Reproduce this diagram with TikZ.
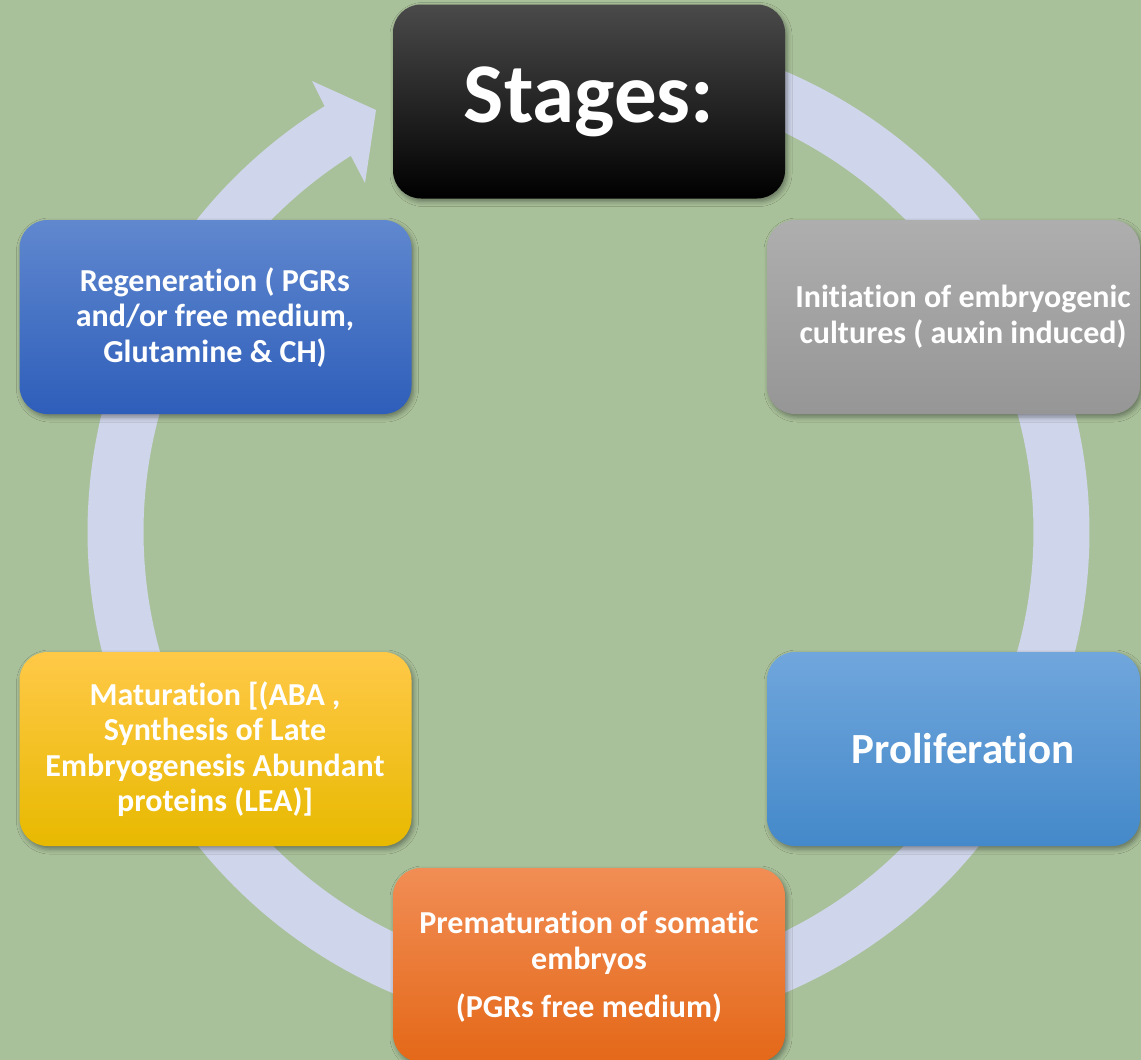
\documentclass[tikz,border=0pt]{standalone}
\usepackage{fontspec}
\setmainfont{Carlito}[Ligatures={NoCommon,NoContextual,NoRare}, Contextuals=NoAlternate]
\usetikzlibrary{shadows.blur}
\definecolor{bg}{RGB}{169,193,154}
\definecolor{ringc}{RGB}{207,213,234}
\definecolor{stgTop}{RGB}{74,74,74}
\definecolor{grTop}{RGB}{174,174,174}
\definecolor{grBot}{RGB}{150,150,150}
\definecolor{rgTop}{RGB}{96,136,207}
\definecolor{rgBot}{RGB}{46,94,186}
\definecolor{prTop}{RGB}{112,166,220}
\definecolor{prMid}{RGB}{93,158,220}
\definecolor{prBot}{RGB}{68,137,202}
\definecolor{maTop}{RGB}{255,201,72}
\definecolor{maMid}{RGB}{255,193,0}
\definecolor{maBot}{RGB}{232,185,0}
\definecolor{pmTop}{RGB}{241,141,85}
\definecolor{pmMid}{RGB}{245,124,42}
\definecolor{pmBot}{RGB}{228,104,24}
\tikzset{
  stagebox/.style={rectangle, rounded corners=28pt, inner sep=0pt,
    minimum height=194pt,
    blur shadow={shadow xshift=2pt, shadow yshift=-3pt, shadow blur radius=5pt, shadow opacity=40}},
  stagetext/.style={text=white, font=\bfseries\fontsize{32}{35.5}\selectfont, align=center, inner sep=0pt}
}
\begin{document}
\begin{tikzpicture}[x=1pt,y=-1pt]
\useasboundingbox (0,0) rectangle (1141,1060);
\fill[bg] (0,0) rectangle (1141,1060);
% circular arrow
\draw[ringc, line width=56pt] plot[domain=260:598.5, samples=240, smooth] ({588.5+473*cos(\x)}, {532+473*sin(\x)});
\fill[ringc] (325,107) -- (312,81) -- (376,110) -- (365,183) -- (352,158) -- cycle;
% boxes
\node[stagebox, minimum width=392pt, top color=stgTop, middle color=black, bottom color=black] (stg) at (589,101.5) {};
\node[stagebox, minimum width=373pt, top color=grTop, bottom color=grBot] (ini) at (953.5,317) {};
\node[stagebox, minimum width=392pt, top color=rgTop, bottom color=rgBot] (reg) at (215.5,317) {};
\node[stagebox, minimum width=373pt, top color=prTop, middle color=prMid, bottom color=prBot] (pro) at (953.5,749) {};
\node[stagebox, minimum width=392pt, top color=maTop, middle color=maMid, bottom color=maBot] (mat) at (215.5,749) {};
\node[stagebox, minimum width=392pt, top color=pmTop, middle color=pmMid, bottom color=pmBot] (pre) at (589,965) {};
% texts
\node[stagetext, font=\bfseries\fontsize{85}{90}\selectfont] (stgT) at (589,102) {Stages:};
\node[stagetext] (iniT) at (963,316.5) {Initiation of embryogenic\\cultures ( auxin induced)};
\node[stagetext] (regT) at (215,317.5) {Regeneration ( PGRs\\and/or free medium,\\Glutamine \& CH)};
\node[stagetext, font=\bfseries\fontsize{43}{46}\selectfont] (proT) at (963,749) {Proliferation};
\node[stagetext] (matT) at (215,749) {Maturation [(ABA ,\\Synthesis of Late\\Embryogenesis Abundant\\proteins (LEA)]};
\node[stagetext] (preT) at (589,967) {Prematuration of somatic\\embryos\\[13pt](PGRs free medium)};
\end{tikzpicture}
\end{document}
